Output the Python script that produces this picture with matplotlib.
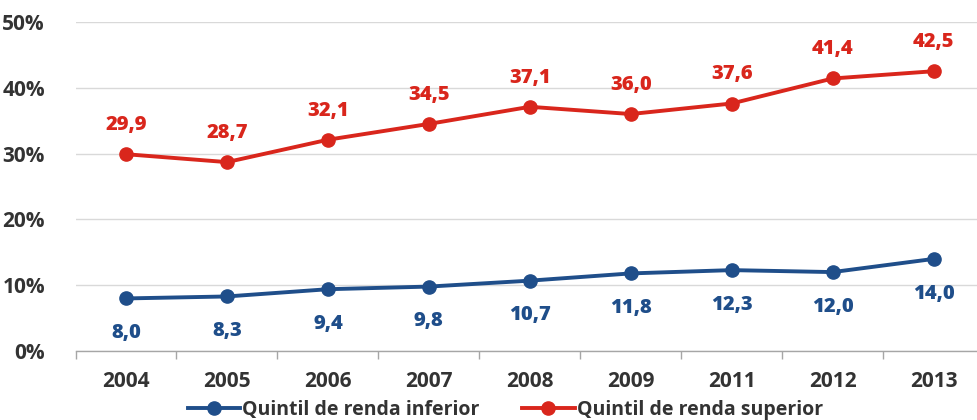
import matplotlib
matplotlib.use("Agg")
import matplotlib.pyplot as plt
from matplotlib.ticker import FixedLocator, FuncFormatter

plt.rcParams['font.family'] = ['Open Sans', 'DejaVu Sans']
plt.rcParams['font.weight'] = 'bold'

years = ['2004', '2005', '2006', '2007', '2008', '2009', '2011', '2012', '2013']
inferior = [8.0, 8.3, 9.4, 9.8, 10.7, 11.8, 12.3, 12.0, 14.0]
superior = [29.9, 28.7, 32.1, 34.5, 37.1, 36.0, 37.6, 41.4, 42.5]

blue = '#1f4e8a'
red = '#d9261c'
txt = '#333333'

fig = plt.figure(figsize=(9.77, 4.2), dpi=100)
ax = fig.add_axes([0.0773, 0.164, 0.930, 0.784])

x = list(range(len(years)))
ax.plot(x, inferior, color=blue, lw=2.8, marker='o', ms=9.5, label='Quintil de renda inferior')
ax.plot(x, superior, color=red, lw=2.8, marker='o', ms=9.5, label='Quintil de renda superior')

for i in x:
    ax.annotate(f'{superior[i]:.1f}'.replace('.', ','), (i, superior[i]), xytext=(0, 21),
                textcoords='offset points', ha='center', va='center',
                color=red, fontsize=14.5, fontweight='heavy')
    ax.annotate(f'{inferior[i]:.1f}'.replace('.', ','), (i, inferior[i]), xytext=(0, -25),
                textcoords='offset points', ha='center', va='center',
                color=blue, fontsize=14.5, fontweight='heavy')

ax.set_xlim(-0.5, len(years) - 0.5)
ax.set_ylim(0, 50)
ax.set_yticks([0, 10, 20, 30, 40, 50])
ax.yaxis.set_major_formatter(FuncFormatter(lambda v, p: f'{int(v)}%'))
ax.set_xticks(x)
ax.set_xticklabels(years)
ax.xaxis.set_minor_locator(FixedLocator([i - 0.5 for i in range(len(years) + 1)]))
ax.tick_params(axis='x', which='major', length=0, pad=14, labelsize=15, labelcolor=txt)
ax.tick_params(axis='x', which='minor', length=6, color='#a6a6a6', width=1)
ax.tick_params(axis='y', length=0, pad=22, labelsize=15, labelcolor=txt)

ax.grid(axis='y', color='#d9d9d9', lw=1)
ax.set_axisbelow(True)
for s in ['top', 'right', 'left']:
    ax.spines[s].set_visible(False)
ax.spines['bottom'].set_color('#a6a6a6')
ax.spines['bottom'].set_linewidth(1)

leg = fig.legend(loc='center', bbox_to_anchor=(0.517, 0.025), ncol=2, frameon=False,
                 fontsize=14, handlelength=2.7, columnspacing=2.2, handletextpad=0.1)
for t in leg.get_texts():
    t.set_color(txt)

fig.savefig('out.png', dpi=100)
